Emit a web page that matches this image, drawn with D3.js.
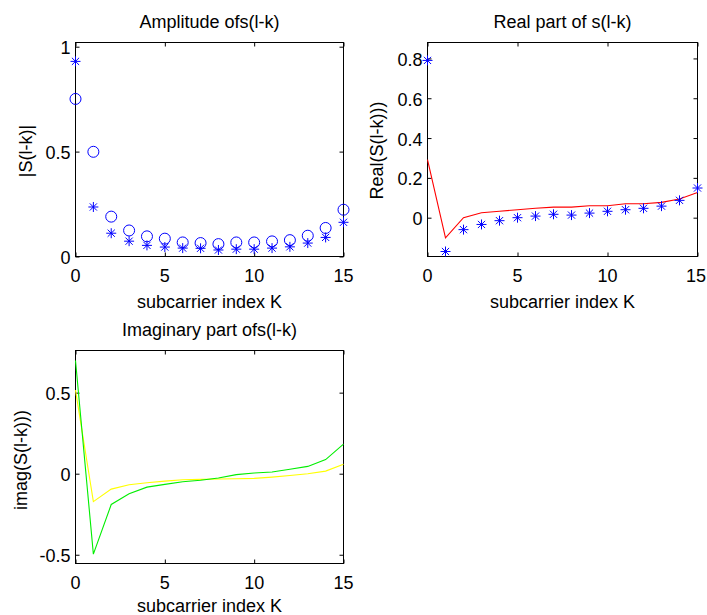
<!DOCTYPE html>
<html>
<head>
<meta charset="utf-8">
<script src="https://cdn.jsdelivr.net/npm/d3@7"></script>
<style>
  html, body { margin: 0; padding: 0; background: #fff; }
  svg { display: block; }
  text { font-family: "Liberation Sans", Arial, sans-serif; fill: #000; }
</style>
</head>
<body>
<svg id="fig" width="707" height="615"></svg>
<script>
// subcarrier index
const K = d3.range(0, 16);

// |S(l-k)|, two cases
const ampCircle = [0.751, 0.499, 0.190, 0.124, 0.096, 0.085, 0.067, 0.064, 0.059, 0.067, 0.067, 0.072, 0.078, 0.099, 0.136, 0.223];
const ampStar   = [0.930, 0.236, 0.111, 0.073, 0.053, 0.045, 0.040, 0.039, 0.031, 0.035, 0.035, 0.040, 0.046, 0.064, 0.091, 0.163];

// real part
const realStar = [0.790, -0.170, -0.060, -0.034, -0.015, 0.000, 0.008, 0.017, 0.013, 0.023, 0.032, 0.040, 0.047, 0.058, 0.087, 0.149];
const realLine = [0.292, -0.101, 0.000, 0.025, 0.032, 0.040, 0.047, 0.053, 0.053, 0.060, 0.060, 0.070, 0.070, 0.077, 0.094, 0.126];

// imaginary part
const imagGreen  = [0.698, -0.496, -0.190, -0.124, -0.083, -0.066, -0.050, -0.040, -0.027, -0.006, 0.004, 0.010, 0.027, 0.045, 0.087, 0.182];
const imagYellow = [0.516, -0.172, -0.095, -0.068, -0.056, -0.046, -0.037, -0.035, -0.033, -0.031, -0.029, -0.021, -0.011, 0.000, 0.016, 0.058];

// tick values
const xTicks = [0, 5, 10, 15];
const ampTicks = [0, 0.5, 1];
const realTicks = [0, 0.2, 0.4, 0.6, 0.8];
const imagTicks = [-0.5, 0, 0.5];

const W = 707;
const svg = d3.select("#fig");
const FONT = 18;
const fmt = v => String(+v.toFixed(2)); // 0.5, -0.5, 1, 0

function makeAxes(o) {
  const x = d3.scaleLinear().domain([0, 15]).range([o.left, o.right]);
  const y = d3.scaleLinear().domain(o.ydom).range([o.bottom, o.top]);
  const g = svg.append("g");
  const tl = 4;

  // inward ticks on all four sides
  const xa = d3.axisBottom(x).tickValues(xTicks).tickSize(-tl).tickFormat("");
  const xt = d3.axisTop(x).tickValues(xTicks).tickSize(-tl).tickFormat("");
  const yl = d3.axisLeft(y).tickValues(o.yticks).tickSize(-tl).tickFormat("");
  const yr = d3.axisRight(y).tickValues(o.yticks).tickSize(-tl).tickFormat("");
  g.append("g").attr("transform", `translate(0,${o.bottom})`).call(xa);
  g.append("g").attr("transform", `translate(0,${o.top})`).call(xt);
  g.append("g").attr("transform", `translate(${o.left},0)`).call(yl);
  g.append("g").attr("transform", `translate(${o.right},0)`).call(yr);
  g.selectAll(".domain").remove();
  g.selectAll(".tick line").attr("stroke", "#000").attr("stroke-width", 1);

  // box
  g.append("rect")
    .attr("x", o.left).attr("y", o.top)
    .attr("width", o.right - o.left).attr("height", o.bottom - o.top)
    .attr("fill", "none").attr("stroke", "#000").attr("stroke-width", 1);

  // tick labels (kept inside the page at the right edge)
  g.selectAll(".xl").data(xTicks).enter().append("text")
    .attr("y", o.bottom + 25)
    .attr("text-anchor", "middle").attr("font-size", FONT)
    .text(d => fmt(d))
    .each(function (d) {
      const t = d3.select(this);
      t.attr("x", x(d));
      const w = this.getComputedTextLength();
      if (x(d) + w / 2 > W - 1) t.attr("x", W - 1 - w / 2);
    });
  g.selectAll(".yl").data(o.yticks).enter().append("text")
    .attr("x", o.left - 5).attr("y", d => y(d) + 7.5)
    .attr("text-anchor", "end").attr("font-size", FONT)
    .text(d => fmt(d));

  // title and axis labels
  g.append("text")
    .attr("x", (o.left + o.right) / 2).attr("y", o.top - 15)
    .attr("text-anchor", "middle").attr("font-size", FONT)
    .text(o.title);
  g.append("text")
    .attr("x", (o.left + o.right) / 2).attr("y", Math.min(o.bottom + 51.5, 612))
    .attr("text-anchor", "middle").attr("font-size", FONT)
    .text("subcarrier index K");
  g.append("text")
    .attr("transform", `translate(${o.ylabX},${o.ylabY}) rotate(-90)`)
    .attr("text-anchor", "middle").attr("font-size", FONT)
    .text(o.ylabel);

  return { x, y, g };
}

function starPath(cx, cy) {
  const a = 5, b = 3.6;
  return `M${cx - a},${cy}H${cx + a}M${cx},${cy - a}V${cy + a}` +
         `M${cx - b},${cy - b}L${cx + b},${cy + b}M${cx - b},${cy + b}L${cx + b},${cy - b}`;
}

function stars(ax, vals, color) {
  ax.g.append("g").selectAll("path").data(vals).enter().append("path")
    .attr("d", (v, i) => starPath(ax.x(K[i]), ax.y(v)))
    .attr("fill", "none").attr("stroke", color).attr("stroke-width", 1);
}
function circles(ax, vals, color) {
  ax.g.append("g").selectAll("circle").data(vals).enter().append("circle")
    .attr("cx", (v, i) => ax.x(K[i])).attr("cy", v => ax.y(v)).attr("r", 5.5)
    .attr("fill", "none").attr("stroke", color).attr("stroke-width", 1);
}
function line(ax, vals, color) {
  const gen = d3.line().x((v, i) => ax.x(K[i])).y(v => ax.y(v));
  ax.g.append("path").datum(vals).attr("d", gen)
    .attr("fill", "none").attr("stroke", color).attr("stroke-width", 1.1);
}

// top-left: amplitude
const a1 = makeAxes({
  left: 75.5, right: 343.5, top: 42.5, bottom: 256.5,
  ydom: [0, 1.02], yticks: ampTicks,
  title: "Amplitude ofs(l-k)", ylabel: "|S(l-k)|", ylabX: 32.3, ylabY: 151
});
circles(a1, ampCircle, "#0000ff");
stars(a1, ampStar, "#0000ff");

// top-right: real part
const a2 = makeAxes({
  left: 427.5, right: 697.5, top: 42.5, bottom: 256.5,
  ydom: [-0.195, 0.88], yticks: realTicks,
  title: "Real part of s(l-k)", ylabel: "Real(S(l-k)))", ylabX: 382.7, ylabY: 150.5
});
line(a2, realLine, "#ff0000");
stars(a2, realStar, "#0000ff");

// bottom-left: imaginary part
const a3 = makeAxes({
  left: 75.5, right: 343.5, top: 350.5, bottom: 563.5,
  ydom: [-0.554, 0.76], yticks: imagTicks,
  title: "Imaginary part ofs(l-k)", ylabel: "imag(S(l-k)))", ylabX: 27, ylabY: 460
});
line(a3, imagYellow, "#ffff00");
line(a3, imagGreen, "#00ee00");
</script>
</body>
</html>
